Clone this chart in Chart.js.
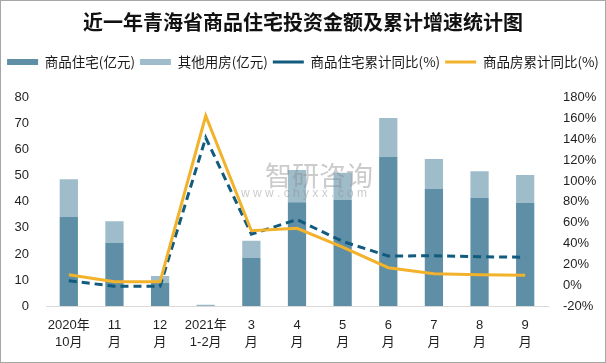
<!DOCTYPE html>
<html>
<head>
<meta charset="utf-8">
<script src="https://cdn.jsdelivr.net/npm/chart.js@4/dist/chart.umd.min.js"></script>
<style>
  html, body { margin: 0; padding: 0; background: #ffffff; }
  #wrap { width: 606px; height: 363px; position: relative; }
</style>
</head>
<body>
<div id="wrap"><canvas id="c" width="606" height="363"></canvas></div>
<script>
// ---- data ----
const categories = [
  ['2020年', '10月'], ['11', '月'], ['12', '月'], ['2021年', '1-2月'],
  ['3', '月'], ['4', '月'], ['5', '月'], ['6', '月'], ['7', '月'], ['8', '月'], ['9', '月']
];
const residentialInvest = [34.2, 24.2, 8.8, 0.2, 18.4, 39.9, 40.7, 57.3, 44.9, 41.5, 39.6];
const otherInvest = [14.5, 8.4, 2.7, 0.3, 6.7, 12.3, 10.5, 14.9, 11.6, 10.3, 10.7];
const residentialYoY = [4.3, -1.1, -1.1, 141.6, 49.0, 63.0, 42.0, 28.0, 28.3, 27.3, 26.8];
const housingYoY = [10.0, 3.3, 3.3, 162.7, 52.3, 54.6, 36.5, 16.8, 11.0, 10.0, 9.5];
const seriesNames = ['商品住宅(亿元)', '其他用房(亿元)', '商品住宅累计同比(%)', '商品房累计同比(%)'];
const leftTicks = { min: 0, max: 80, step: 10 };
const rightTicks = { min: -20, max: 180, step: 20 };
const titleText = '近一年青海省商品住宅投资金额及累计增速统计图';

const tickFont = { family: '"Liberation Sans", "Noto Sans CJK SC", sans-serif', size: 13 };
const tickColor = '#1f1f1f';

const decor = {
  id: 'decor',
  afterDatasetsDraw(chart) {
    const ctx = chart.ctx;
    ctx.save();
    ctx.fillStyle = 'rgba(140,140,140,0.45)';
    ctx.textAlign = 'center';
    ctx.textBaseline = 'middle';
    ctx.font = '27px "Noto Sans CJK SC", sans-serif';
    ctx.fillText('智研咨询', 319, 176);
    ctx.font = '12px "Liberation Sans", sans-serif';
    ctx.fillText('w w w . c h y x x . c o m', 304, 194);
    ctx.restore();
  },
  afterDraw(chart) {
    const ctx = chart.ctx;
    ctx.save();
    ctx.strokeStyle = '#a6a6a6';
    ctx.lineWidth = 1;
    ctx.strokeRect(0.5, 0.5, chart.width - 1, chart.height - 1);
    ctx.restore();
  }
};

new Chart(document.getElementById('c'), {
  data: {
    labels: categories,
    datasets: [
      {
        type: 'bar', label: seriesNames[0], data: residentialInvest,
        backgroundColor: '#5e8fa7', yAxisID: 'y', stack: 's', order: 3,
        barPercentage: 0.4, categoryPercentage: 1.0, pointStyle: 'rect', borderWidth: 0
      },
      {
        type: 'bar', label: seriesNames[1], data: otherInvest,
        backgroundColor: '#9fbccb', yAxisID: 'y', stack: 's', order: 3,
        barPercentage: 0.4, categoryPercentage: 1.0, pointStyle: 'rect', borderWidth: 0
      },
      {
        type: 'line', label: seriesNames[2], data: residentialYoY,
        borderColor: '#115b7e', backgroundColor: '#115b7e', borderWidth: 3,
        borderDash: [8, 5], pointRadius: 0, pointStyle: 'line', tension: 0,
        yAxisID: 'y1', order: 2, fill: false
      },
      {
        type: 'line', label: seriesNames[3], data: housingYoY,
        borderColor: '#f2b22c', backgroundColor: '#f2b22c', borderWidth: 3,
        pointRadius: 0, pointStyle: 'line', tension: 0,
        yAxisID: 'y1', order: 1, fill: false
      }
    ]
  },
  options: {
    responsive: false,
    animation: false,
    devicePixelRatio: 1,
    layout: { padding: { left: 0, right: 0, top: 0, bottom: 0 } },
    plugins: {
      tooltip: { enabled: false },
      title: {
        display: true, text: titleText, color: '#111111',
        font: { family: '"Noto Sans CJK SC", sans-serif', size: 20, weight: 'bold', lineHeight: 1.2 },
        padding: { top: 10.5, bottom: 15.75 }
      },
      subtitle: {
        display: true, text: '', weight: 500,
        font: { size: 10, lineHeight: 1 }, padding: { top: 0, bottom: 9 }
      },
      legend: {
        display: true, position: 'top',
        labels: {
          usePointStyle: true, pointStyleWidth: 31, boxHeight: 6,
          padding: 5, color: '#1a1a1a',
          font: { family: '"Noto Sans CJK SC", sans-serif', size: 13.5 },
          sort: (a, b) => a.datasetIndex - b.datasetIndex
        }
      }
    },
    scales: {
      x: {
        stacked: true,
        grid: { display: false, drawTicks: false },
        border: { display: true, color: '#d9d9d9', width: 1 },
        ticks: { font: { ...tickFont, lineHeight: 1.3 }, color: tickColor, padding: 11, maxRotation: 0, autoSkip: false },
        afterFit(s) { s.height = 57; }
      },
      y: {
        position: 'left', stacked: true,
        min: leftTicks.min, max: leftTicks.max,
        grid: { display: false, drawTicks: false },
        border: { display: false },
        ticks: { stepSize: leftTicks.step, font: tickFont, color: tickColor, padding: 17 },
        afterFit(s) { s.width = 46; }
      },
      y1: {
        position: 'right', stacked: false,
        min: rightTicks.min, max: rightTicks.max,
        grid: { display: false, drawTicks: false },
        border: { display: false },
        ticks: { stepSize: rightTicks.step, font: tickFont, color: tickColor, padding: 15, callback: v => v + '%' },
        afterFit(s) { s.width = 58; }
      }
    }
  },
  plugins: [decor]
});
</script>
</body>
</html>
